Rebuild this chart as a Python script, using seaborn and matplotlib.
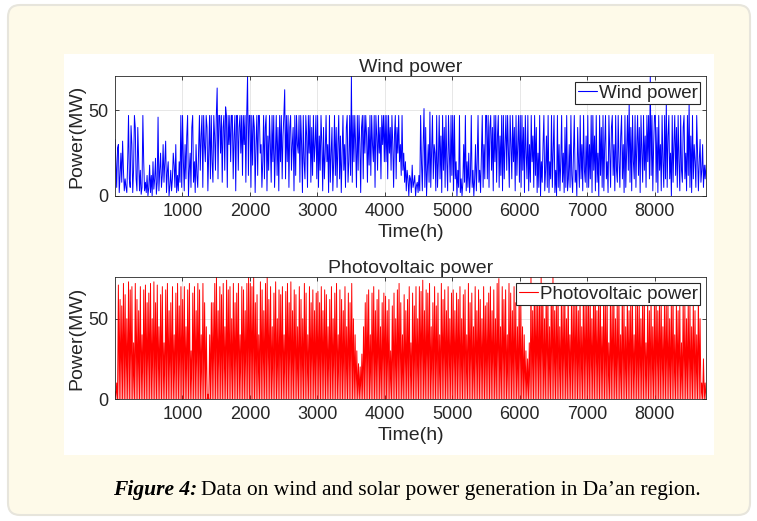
import numpy as np
import pandas as pd
import matplotlib
matplotlib.use('Agg')
import matplotlib.pyplot as plt
import seaborn as sns
from matplotlib.patches import FancyBboxPatch, Rectangle

# hourly series (~12.5 h between samples, one row per 500 h)
wind_mw = [
    33, 20, 5, 28, 30, 2, 12, 25, 8, 32, 15, 3, 10, 5, 2, 20, 47, 10, 5, 41, 30, 2, 15, 47, 40, 10, 3, 40, 22, 3, 15, 1, 5, 47, 20, 3, 8, 2, 12, 0,
    5, 18, 2, 12, 0, 20, 4, 10, 22, 1, 8, 46, 3, 15, 25, 5, 12, 30, 8, 20, 32, 2, 14, 20, 0, 6, 15, 3, 10, 25, 18, 5, 30, 2, 12, 3, 20, 8, 47, 5,
    47, 20, 3, 30, 10, 35, 47, 0, 15, 25, 5, 40, 47, 8, 20, 2, 30, 12, 5, 25, 47, 15, 35, 47, 5, 47, 30, 20, 47, 40, 3, 25, 47, 10, 47, 20, 8, 47, 35, 15,
    47, 63, 10, 47, 47, 25, 47, 8, 40, 47, 15, 52, 47, 5, 47, 30, 47, 20, 47, 47, 10, 35, 47, 3, 47, 47, 15, 40, 47, 25, 47, 12, 47, 30, 47, 8, 47, 70, 12, 47,
    47, 5, 47, 18, 47, 40, 2, 30, 47, 12, 47, 47, 25, 30, 5, 20, 47, 10, 40, 47, 3, 35, 15, 47, 30, 8, 47, 20, 47, 5, 25, 47, 12, 40, 3, 47, 20, 47, 10, 35,
    47, 62, 10, 47, 20, 47, 5, 40, 47, 15, 30, 40, 3, 47, 12, 47, 30, 25, 47, 8, 47, 30, 2, 47, 20, 10, 47, 35, 5, 47, 25, 47, 8, 40, 12, 47, 20, 30, 47, 10,
    47, 5, 35, 15, 47, 30, 3, 40, 10, 25, 47, 20, 30, 2, 47, 8, 25, 40, 3, 20, 47, 12, 40, 5, 30, 47, 10, 35, 2, 25, 47, 15, 30, 5, 40, 47, 8, 20, 47, 12,
    70, 8, 47, 20, 47, 30, 5, 47, 15, 47, 30, 2, 40, 47, 10, 47, 25, 47, 35, 8, 40, 18, 47, 12, 47, 30, 20, 47, 5, 47, 35, 15, 47, 25, 40, 10, 47, 30, 47, 20,
    47, 20, 47, 10, 47, 25, 40, 15, 47, 30, 5, 35, 47, 10, 40, 25, 47, 20, 30, 12, 47, 15, 25, 8, 20, 3, 15, 10, 0, 12, 10, 2, 18, 5, 8, 12, 0, 6, 8, 2,
    12, 3, 47, 20, 3, 30, 51, 5, 40, 0, 15, 30, 8, 49, 5, 25, 47, 10, 30, 25, 3, 47, 5, 20, 47, 10, 35, 2, 47, 15, 40, 5, 47, 20, 3, 47, 25, 8, 47, 12,
    47, 3, 47, 10, 20, 0, 15, 5, 47, 2, 10, 0, 8, 30, 8, 47, 3, 20, 5, 25, 2, 12, 47, 5, 15, 0, 10, 30, 3, 20, 47, 8, 15, 2, 25, 47, 5, 30, 10, 47,
    47, 10, 47, 5, 40, 47, 15, 40, 3, 47, 20, 47, 8, 35, 47, 5, 35, 12, 47, 3, 47, 10, 30, 47, 15, 47, 25, 5, 47, 30, 10, 47, 20, 40, 3, 47, 12, 30, 47, 8,
    47, 5, 47, 15, 40, 2, 47, 25, 10, 47, 3, 30, 8, 47, 20, 35, 5, 47, 12, 40, 2, 25, 5, 47, 0, 20, 8, 30, 47, 3, 15, 35, 5, 47, 2, 20, 10, 47, 5, 25,
    47, 2, 15, 0, 47, 5, 30, 3, 20, 47, 8, 25, 2, 40, 5, 47, 3, 10, 30, 5, 47, 12, 2, 25, 47, 8, 15, 0, 40, 20, 5, 47, 10, 30, 3, 47, 15, 8, 35, 5,
    47, 5, 30, 10, 47, 2, 47, 15, 35, 3, 47, 8, 25, 0, 47, 12, 40, 5, 47, 3, 30, 47, 10, 20, 2, 47, 25, 5, 40, 47, 12, 30, 3, 47, 15, 8, 47, 20, 5, 35,
    47, 10, 30, 2, 47, 5, 25, 47, 15, 55, 8, 40, 3, 47, 20, 10, 47, 5, 30, 47, 12, 40, 2, 47, 25, 8, 47, 15, 35, 5, 47, 20, 47, 10, 70, 12, 47, 3, 30, 47,
    47, 8, 40, 2, 47, 15, 30, 3, 47, 20, 5, 47, 10, 55, 5, 35, 47, 10, 25, 0, 47, 8, 30, 47, 12, 40, 5, 47, 20, 3, 47, 15, 8, 40, 47, 10, 25, 3, 47, 12,
    55, 5, 35, 2, 47, 10, 30, 20, 5, 47, 25, 3, 20, 33, 8, 15, 30, 5, 18, 10, 18,
]

# photovoltaic: midday value then night zero, roughly one pair per day
pv_mw = [
    5, 0, 10, 0, 71, 0, 62, 0, 58, 0, 72, 0, 65, 0, 50, 0, 73, 0, 68, 0, 70, 0, 35, 0, 72, 0, 62, 0, 55, 0, 70, 0, 40, 0, 68, 0, 71, 0, 60, 0,
    66, 0, 72, 0, 50, 0, 73, 0, 60, 0, 71, 0, 45, 0, 65, 0, 70, 0, 35, 0, 68, 0, 72, 0, 55, 0, 60, 0, 70, 0, 40, 0, 66, 0, 72, 0, 58, 0, 70, 0,
    62, 0, 70, 0, 45, 0, 68, 0, 72, 0, 30, 0, 66, 0, 70, 0, 55, 0, 72, 0, 68, 0, 40, 0, 72, 0, 60, 0, 45, 0, 3, 0, 40, 0, 60, 0, 60, 0, 72, 0,
    76, 0, 55, 0, 70, 0, 65, 0, 72, 0, 45, 0, 74, 0, 68, 0, 70, 0, 50, 0, 72, 0, 60, 0, 66, 0, 72, 0, 40, 0, 70, 0, 68, 0, 55, 0, 72, 0, 76, 0,
    72, 0, 70, 0, 76, 0, 60, 0, 65, 0, 40, 0, 73, 0, 68, 0, 55, 0, 72, 0, 76, 0, 62, 0, 70, 0, 45, 0, 66, 0, 73, 0, 50, 0, 68, 0, 65, 0, 70, 0,
    40, 0, 67, 0, 72, 0, 60, 0, 73, 0, 55, 0, 68, 0, 65, 0, 45, 0, 70, 0, 62, 0, 50, 0, 72, 0, 66, 0, 40, 0, 70, 0, 60, 0, 68, 0, 55, 0, 66, 0,
    67, 0, 60, 0, 70, 0, 55, 0, 68, 0, 65, 0, 45, 0, 62, 0, 70, 0, 50, 0, 66, 0, 72, 0, 40, 0, 68, 0, 62, 0, 55, 0, 70, 0, 45, 0, 66, 0, 60, 0,
    72, 0, 50, 0, 40, 0, 30, 0, 22, 0, 20, 0, 28, 0, 45, 0, 60, 0, 65, 0, 68, 0, 40, 0, 66, 0, 70, 0, 55, 0, 62, 0, 68, 0, 45, 0, 60, 0, 66, 0,
    64, 0, 55, 0, 62, 0, 30, 0, 58, 0, 66, 0, 50, 0, 68, 0, 72, 0, 60, 0, 40, 0, 65, 0, 55, 0, 62, 0, 70, 0, 35, 0, 66, 0, 58, 0, 70, 0, 50, 0,
    70, 0, 67, 0, 74, 0, 55, 0, 68, 0, 66, 0, 72, 0, 45, 0, 60, 0, 70, 0, 58, 0, 66, 0, 40, 0, 72, 0, 62, 0, 68, 0, 55, 0, 70, 0, 50, 0, 66, 0,
    68, 0, 55, 0, 66, 0, 62, 0, 70, 0, 50, 0, 65, 0, 68, 0, 40, 0, 72, 0, 60, 0, 66, 0, 45, 0, 70, 0, 55, 0, 68, 0, 62, 0, 50, 0, 70, 0, 58, 0,
    60, 0, 66, 0, 70, 0, 55, 0, 68, 0, 50, 0, 72, 0, 75, 0, 45, 0, 70, 0, 62, 0, 68, 0, 40, 0, 72, 0, 66, 0, 55, 0, 70, 0, 60, 0, 45, 0, 68, 0,
    60, 0, 45, 0, 40, 0, 30, 0, 25, 0, 35, 0, 76, 0, 55, 0, 70, 0, 65, 0, 68, 0, 60, 0, 76, 0, 70, 0, 50, 0, 72, 0, 66, 0, 45, 0, 70, 0, 76, 0,
    55, 0, 62, 0, 70, 0, 45, 0, 66, 0, 60, 0, 68, 0, 50, 0, 72, 0, 40, 0, 66, 0, 58, 0, 70, 0, 62, 0, 55, 0, 68, 0, 45, 0, 70, 0, 60, 0, 66, 0,
    60, 0, 68, 0, 50, 0, 66, 0, 70, 0, 55, 0, 62, 0, 68, 0, 45, 0, 70, 0, 58, 0, 66, 0, 35, 0, 64, 0, 60, 0, 68, 0, 50, 0, 62, 0, 66, 0, 40, 0,
    68, 0, 60, 0, 45, 0, 66, 0, 55, 0, 64, 0, 62, 0, 40, 0, 66, 0, 58, 0, 62, 0, 50, 0, 60, 0, 68, 0, 35, 0, 62, 0, 55, 0, 66, 0, 45, 0, 60, 0,
    66, 0, 55, 0, 64, 0, 62, 0, 45, 0, 66, 0, 58, 0, 62, 0, 50, 0, 60, 0, 68, 0, 40, 0, 62, 0, 55, 0, 60, 0, 35, 0, 64, 0, 58, 0, 50, 0, 62, 0,
    60, 0, 45, 0, 62, 0, 55, 0, 40, 0, 66, 0, 50, 0, 10, 0, 25, 0, 10, 0,
]

hour_ticks = [1000, 2000, 3000, 4000, 5000, 6000, 7000, 8000]
power_ticks = [0, 50]
n_hours = 8760

sns.set_style('ticks')
plt.rcParams['font.family'] = ['Liberation Sans', 'DejaVu Sans']

W, H = 757, 521
fig = plt.figure(figsize=(W / 100, H / 100), dpi=100)
fig.patch.set_facecolor('white')

# background card + white panel, drawn in pixel units
bg = fig.add_axes([0, 0, 1, 1])
bg.set_xlim(0, W)
bg.set_ylim(H, 0)
bg.axis('off')
bg.add_patch(FancyBboxPatch((8, 5), 742, 510, boxstyle='round,pad=0,rounding_size=12',
                            facecolor='#fefae9', edgecolor='#e7e5dc', lw=1.5))
bg.add_patch(Rectangle((64, 54), 650, 401, facecolor='white', edgecolor='none'))


def px_axes(left, top, right, bottom):
    return fig.add_axes([left / W, 1 - bottom / H, (right - left) / W, (bottom - top) / H])


def style_axis(ax, title, ymax, colour):
    ax.set_xlim(1, n_hours)
    ax.set_ylim(0, ymax)
    ax.set_xticks(hour_ticks)
    ax.set_yticks(power_ticks)
    ax.tick_params(direction='in', top=True, right=True, labelsize=13, length=3,
                   width=0.6, color='#262626', labelcolor='#262626', pad=5)
    ax.grid(True, color='#e3e3e3', lw=0.6)
    ax.set_axisbelow(True)
    for s in ax.spines.values():
        s.set_color('#262626')
        s.set_linewidth(0.6)
    ax.set_title(title, fontsize=14, pad=3, color='#262626')
    ax.set_xlabel('Time(h)', fontsize=14, labelpad=3, color='#262626')
    ax.set_ylabel('Power(MW)', fontsize=14, labelpad=2, color='#262626')
    leg = ax.legend(loc='upper right', fontsize=13.5, handlelength=1.0, handletextpad=0.1,
                    borderpad=0.15, borderaxespad=0.3, fancybox=False, framealpha=1)
    leg.get_frame().set_edgecolor('#262626')
    leg.get_frame().set_linewidth(0.8)
    for h in leg.get_lines():
        h.set_color(colour)
        h.set_linewidth(0.8)


wind_df = pd.DataFrame({'hour': np.linspace(1, n_hours, len(wind_mw)), 'power': wind_mw})
pv_df = pd.DataFrame({'hour': np.linspace(1, n_hours, len(pv_mw)), 'power': pv_mw})

ax1 = px_axes(115, 76, 706, 196)
sns.lineplot(data=wind_df, x='hour', y='power', ax=ax1, color='#0000ff', lw=0.7,
             label='Wind power')
style_axis(ax1, 'Wind power', 70, '#0000ff')

ax2 = px_axes(115, 277, 706, 399)
sns.lineplot(data=pv_df, x='hour', y='power', ax=ax2, color='#ff0000', lw=0.7,
             label='Photovoltaic power')
style_axis(ax2, 'Photovoltaic power', 76, '#ff0000')

# caption
cap1 = bg.text(113, 490, 'Figure 4:', fontfamily='Liberation Serif', fontweight='bold',
               fontstyle='italic', fontsize=15.5, va='center', ha='left', color='black')
fig.canvas.draw()
bb = cap1.get_window_extent(renderer=fig.canvas.get_renderer())
bg.text(bb.x1 + 4, 490, 'Data on wind and solar power generation in Da\u2019an region.',
        fontfamily='Liberation Serif', fontsize=15.5, va='center', ha='left', color='black')

fig.savefig('out.png', dpi=100)
